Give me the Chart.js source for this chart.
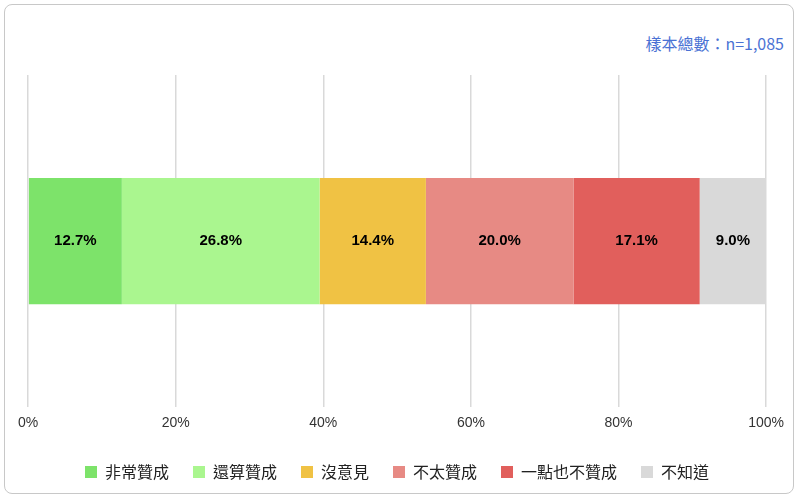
<!DOCTYPE html>
<html>
<head>
<meta charset="utf-8">
<script src="https://cdn.jsdelivr.net/npm/chart.js@4"></script>
<style>
  body { margin: 0; background: #fff; }
  .frame { position: absolute; left: 4px; top: 4px; width: 790px; height: 490px; border: 1px solid #c8c8c8; border-radius: 8px; box-sizing: border-box; }
  .note { position: absolute; right: 16px; top: 31px; color: #4a72d4; font: 16px "Noto Sans CJK TC", sans-serif; }
  #wrap { position: absolute; left: 10px; top: 75px; width: 782px; height: 415px; }
</style>
</head>
<body>
<div class="frame"></div>
<div class="note">樣本總數：n=1,085</div>
<div id="wrap"><canvas id="chart"></canvas></div>
<script>
const categories = [""];
const seriesNames = ["非常贊成", "還算贊成", "沒意見", "不太贊成", "一點也不贊成", "不知道"];
const seriesValues = [12.7, 26.8, 14.4, 20.0, 17.1, 9.0];
const seriesColors = ["#7de36a", "#aaf68f", "#f0c244", "#e78a84", "#e15f5c", "#d9d9d9"];
const tickLabels = ["0%", "20%", "40%", "60%", "80%", "100%"];

const barLabels = {
  id: "barLabels",
  afterDatasetsDraw(chart) {
    const ctx = chart.ctx;
    ctx.save();
    ctx.font = "bold 15px 'Liberation Sans', Arial, sans-serif";
    ctx.fillStyle = "#000";
    ctx.textAlign = "center";
    ctx.textBaseline = "middle";
    chart.data.datasets.forEach((ds, i) => {
      const bar = chart.getDatasetMeta(i).data[0];
      const x = (bar.x + bar.base) / 2;
      ctx.fillText(ds.data[0].toFixed(1) + "%", x, bar.y);
    });
    ctx.restore();
  }
};

new Chart(document.getElementById("chart"), {
  type: "bar",
  data: {
    labels: categories,
    datasets: seriesNames.map((name, i) => ({
      label: name,
      data: [seriesValues[i]],
      backgroundColor: seriesColors[i],
      barPercentage: 0.38,
      categoryPercentage: 1
    }))
  },
  options: {
    indexAxis: "y",
    responsive: true,
    maintainAspectRatio: false,
    animation: false,
    layout: { padding: { left: 17, right: 25, top: 0 } },
    scales: {
      x: {
        stacked: true,
        min: 0,
        max: 100,
        ticks: {
          stepSize: 20,
          callback: (v) => tickLabels[v / 20],
          color: "#333",
          padding: 8,
          font: { size: 14, family: "'Liberation Sans', Arial, sans-serif" }
        },
        grid: { color: "#d9d9d9", lineWidth: 1.5, drawTicks: false },
        border: { display: false }
      },
      y: {
        stacked: true,
        display: false
      }
    },
    plugins: {
      legend: {
        position: "bottom",
        labels: {
          boxWidth: 12,
          boxHeight: 12,
          padding: 24,
          color: "#222",
          font: { size: 16, family: "'Noto Sans CJK TC', sans-serif" }
        }
      },
      tooltip: { enabled: false }
    }
  },
  plugins: [barLabels]
});
</script>
</body>
</html>
